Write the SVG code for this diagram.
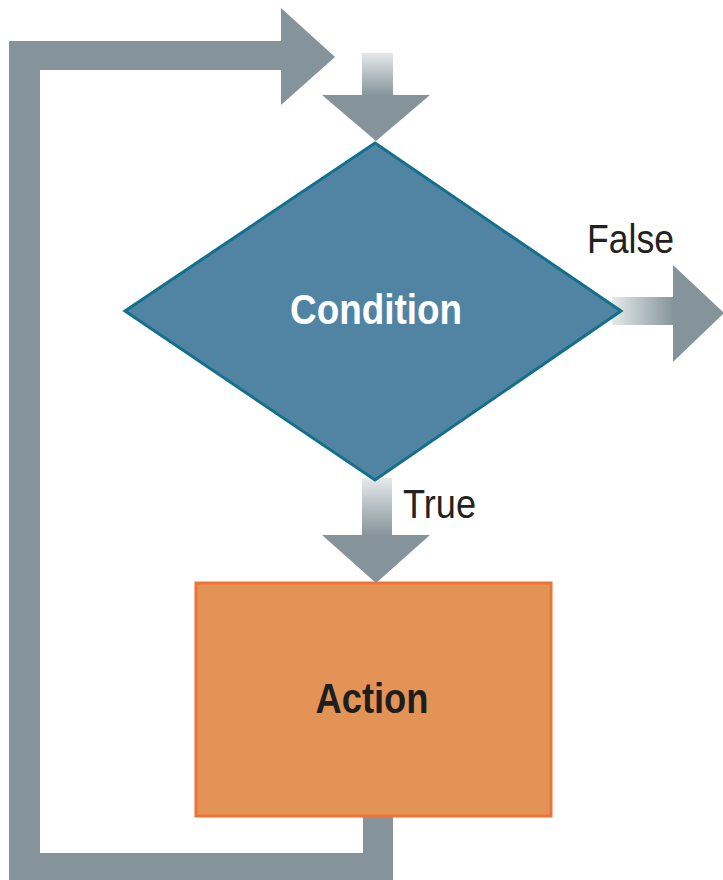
<svg xmlns="http://www.w3.org/2000/svg" width="723" height="880" viewBox="0 0 723 880">
  <style>
    .loop { fill: #85949b; }
    .head { fill: #85949b; }
    .lbl { font-family: "Liberation Sans", Arial, sans-serif; font-size: 40px; fill: #222; }
    .node-text { font-family: "Liberation Sans", Arial, sans-serif; font-size: 42px; font-weight: bold; text-anchor: middle; }
  </style>
  <defs>
    <linearGradient id="fadeDown" x1="0" y1="0" x2="0" y2="1">
      <stop offset="0" stop-color="#e6e9ea"/>
      <stop offset="1" stop-color="#85949b"/>
    </linearGradient>
    <linearGradient id="fadeRight" x1="0" y1="0" x2="1" y2="0">
      <stop offset="0" stop-color="#e6e9ea"/>
      <stop offset="1" stop-color="#85949b"/>
    </linearGradient>
  </defs>

  <!-- connectors -->
  <g id="connectors">
    <!-- loop back from Action to the top -->
    <path class="loop" d="M363,815 H393 V884 H9 V41 H281 V8 L335,57 L281,105 V70 H40 V853 H363 Z"/>
    <!-- entry arrow -->
    <rect x="362" y="53" width="31" height="43" fill="url(#fadeDown)"/>
    <polygon class="head" points="322,95 430,95 376,141"/>
    <!-- true branch -->
    <rect x="362" y="478" width="30" height="58" fill="url(#fadeDown)"/>
    <polygon class="head" points="322,535 430,535 376,583"/>
    <!-- false branch -->
    <rect x="612" y="297" width="62" height="28" fill="url(#fadeRight)"/>
    <polygon class="head" points="673,265 673,362 724,313"/>
    <text class="lbl" x="587" y="253" textLength="87" lengthAdjust="spacingAndGlyphs">False</text>
    <text class="lbl" x="403" y="518" textLength="73" lengthAdjust="spacingAndGlyphs">True</text>
  </g>

  <!-- decision node -->
  <g id="condition">
    <polygon points="375,143 621,311 375,480 125,311" fill="#5084a2" stroke="#12708b" stroke-width="3" stroke-linejoin="miter"/>
    <text class="node-text" x="376" y="324" fill="#ffffff" textLength="172" lengthAdjust="spacingAndGlyphs">Condition</text>
  </g>

  <!-- action node -->
  <g id="action">
    <rect x="196" y="583" width="355" height="233" fill="#e49357" stroke="#f07234" stroke-width="3"/>
    <text class="node-text" x="372" y="713" fill="#1e1e1e" textLength="113" lengthAdjust="spacingAndGlyphs">Action</text>
  </g>
</svg>
